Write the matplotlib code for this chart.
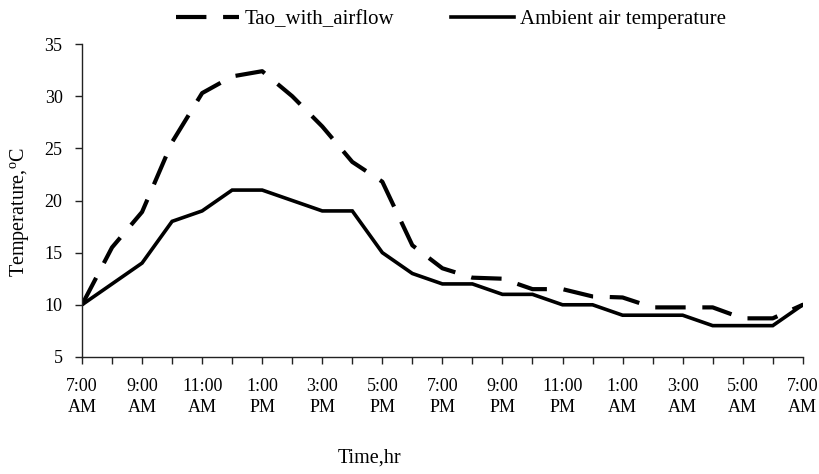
import matplotlib
matplotlib.use("Agg")
import matplotlib.pyplot as plt

# ---- Data ----
hours = ["7:00\nAM", "8:00\nAM", "9:00\nAM", "10:00\nAM", "11:00\nAM", "12:00\nPM",
         "1:00\nPM", "2:00\nPM", "3:00\nPM", "4:00\nPM", "5:00\nPM", "6:00\nPM",
         "7:00\nPM", "8:00\nPM", "9:00\nPM", "10:00\nPM", "11:00\nPM", "12:00\nAM",
         "1:00\nAM", "2:00\nAM", "3:00\nAM", "4:00\nAM", "5:00\nAM", "6:00\nAM",
         "7:00\nAM"]
tao_airflow = [10, 15.5, 18.9, 25.6, 30.3, 31.9, 32.4, 30.0, 27.1, 23.7, 21.8, 15.7,
               13.5, 12.6, 12.5, 11.5, 11.5, 10.8, 10.7, 9.75, 9.75, 9.75, 8.7, 8.7, 10]
ambient = [10, 12, 14, 18, 19, 21, 21, 20, 19, 19, 15, 13,
           12, 12, 11, 11, 10, 10, 9, 9, 9, 8, 8, 8, 10]

# ---- Fonts ----
plt.rcParams["font.family"] = ["Liberation Serif", "DejaVu Serif"]
plt.rcParams["mathtext.fontset"] = "custom"
plt.rcParams["mathtext.rm"] = "Liberation Serif"
plt.rcParams["font.size"] = 13

fig = plt.figure(figsize=(8.2, 4.74), dpi=100)
ax = fig.add_axes([0.1, 0.247, 0.879, 0.66])

x = list(range(len(hours)))
ax.plot(x, tao_airflow, color="black", lw=3, dashes=(7.3, 4),
        solid_joinstyle="miter", label="Tao_with_airflow")
ax.plot(x, ambient, color="black", lw=2.6, solid_joinstyle="miter",
        label="Ambient air temperature")

ax.set_xlim(0, len(hours) - 1)
ax.set_ylim(5, 35)
ax.set_yticks(range(5, 36, 5))
ax.set_xticks(x)
ax.set_xticklabels([h if i % 2 == 0 else "" for i, h in enumerate(hours)],
                   linespacing=1.35)

for s in ["top", "right"]:
    ax.spines[s].set_visible(False)
for s in ["left", "bottom"]:
    ax.spines[s].set_linewidth(1)
    ax.spines[s].set_color("#222222")

ax.tick_params(axis="x", direction="out", length=5, width=1, pad=10, color="#222222")
ax.tick_params(axis="y", direction="out", length=5, width=1, pad=9, color="#222222")

fig.text(0.451, 0.034, "Time,hr", ha="center", va="center", fontsize=14.5)
fig.text(0.025, 0.553, "Temperature,$^{\\mathrm{o}}$C", ha="center", va="center",
         rotation=90, fontsize=14.5)

ax.legend(loc="lower center", bbox_to_anchor=(0.512, 1.015), ncol=2, frameon=False,
          fontsize=15, handlelength=3.0, columnspacing=2.75, handletextpad=0.27,
          borderaxespad=0.1)

fig.savefig("out.png", dpi=100)
